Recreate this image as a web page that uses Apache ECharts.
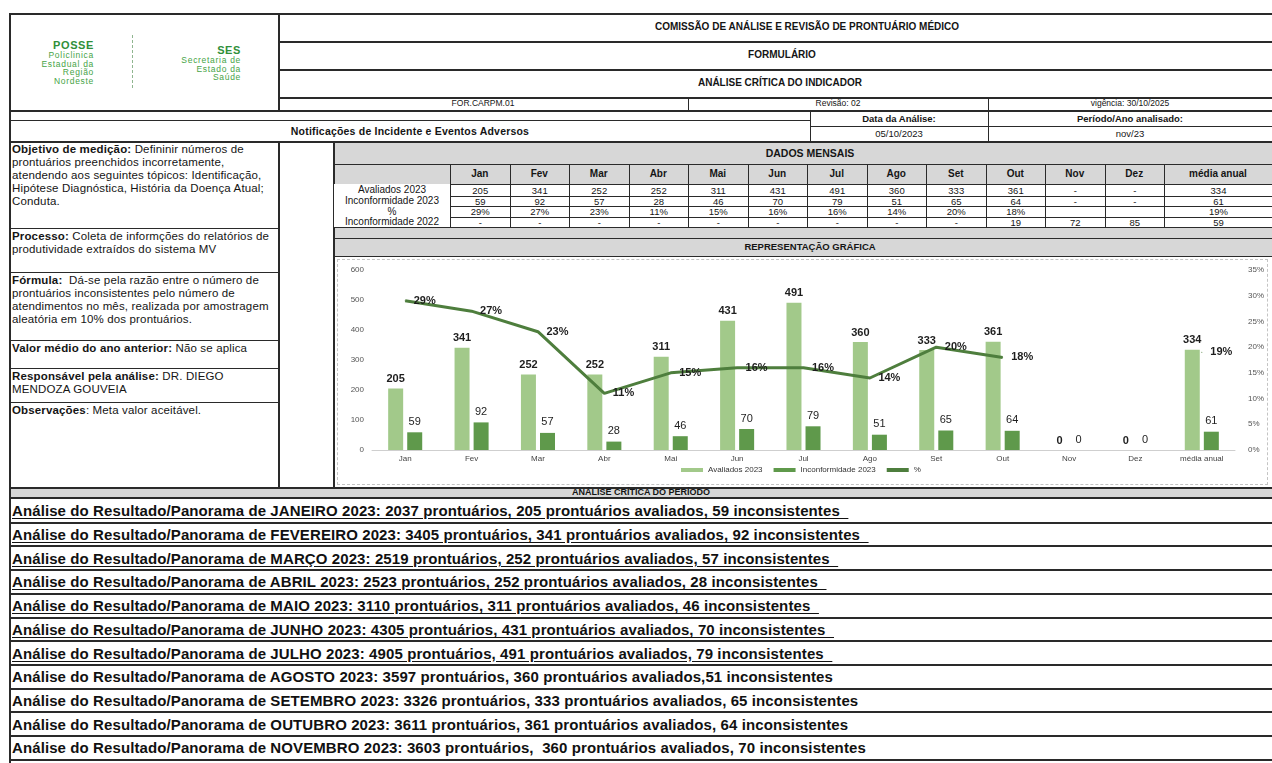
<!DOCTYPE html>
<html><head><meta charset="utf-8">
<script src="https://cdn.jsdelivr.net/npm/echarts@6/dist/echarts.min.js"></script>
<style>
html,body{margin:0;padding:0}
body{width:1272px;height:763px;overflow:hidden;background:#fff;font-family:"Liberation Sans",Arial,sans-serif;color:#151515;position:relative}
.ln{position:absolute;background:#2a2a2a}
.bg{position:absolute;background:#d7d7d7}
.t{position:absolute;display:flex;align-items:center;justify-content:center;white-space:nowrap;font-size:9px;line-height:1}
.blk{position:absolute;font-size:11.5px;letter-spacing:0.15px;line-height:13px;padding:1px 3px;box-sizing:border-box;color:#151515;white-space:nowrap}
.blk b{font-weight:bold}
.row{position:absolute;left:12px;font-size:15px;letter-spacing:0.1px;font-weight:bold;white-space:pre;display:flex;align-items:center;color:#111}
.u{text-decoration:underline;text-underline-offset:2px}
.g1{color:#2f8f3a;font-weight:bold}
.g2{color:#46a446;letter-spacing:0.7px}
</style></head>
<body>
<div id="page"></div>
<div id="chart" style="position:absolute;left:333px;top:256px;width:939px;height:231px"></div>
<script>
// ---------- data ----------
const months = ['Jan','Fev','Mar','Abr','Mai','Jun','Jul','Ago','Set','Out','Nov','Dez','média anual'];
const avaliados2023 = [205,341,252,252,311,431,491,360,333,361,0,0,334];
const inconformidade2023 = [59,92,57,28,46,70,79,51,65,64,0,0,61];
const percentual2023 = [29,27,23,11,15,16,16,14,20,18,null,null,19];
const tabelaAvaliados = ['205','341','252','252','311','431','491','360','333','361','-','-','334'];
const tabelaInconf2023 = ['59','92','57','28','46','70','79','51','65','64','-','-','61'];
const tabelaPercent = ['29%','27%','23%','11%','15%','16%','16%','14%','20%','18%','','','19%'];
const tabelaInconf2022 = ['-','-','-','-','-','-','-','-','-','19','72','85','59'];
const rowLabels = ['Avaliados 2023','Inconformidade 2023','%','Inconformidade 2022'];
const analise = [
 ['Análise do Resultado/Panorama de JANEIRO 2023: 2037 prontuários, 205 prontuários avaliados, 59 inconsistentes  ', true],
 ['Análise do Resultado/Panorama de FEVEREIRO 2023: 3405 prontuários, 341 prontuários avaliados, 92 inconsistentes  ', true],
 ['Análise do Resultado/Panorama de MARÇO 2023: 2519 prontuários, 252 prontuários avaliados, 57 inconsistentes  ', true],
 ['Análise do Resultado/Panorama de ABRIL 2023: 2523 prontuários, 252 prontuários avaliados, 28 inconsistentes  ', true],
 ['Análise do Resultado/Panorama de MAIO 2023: 3110 prontuários, 311 prontuários avaliados, 46 inconsistentes  ', true],
 ['Análise do Resultado/Panorama de JUNHO 2023: 4305 prontuários, 431 prontuários avaliados, 70 inconsistentes  ', true],
 ['Análise do Resultado/Panorama de JULHO 2023: 4905 prontuários, 491 prontuários avaliados, 79 inconsistentes  ', true],
 ['Análise do Resultado/Panorama de AGOSTO 2023: 3597 prontuários, 360 prontuários avaliados,51 inconsistentes', false],
 ['Análise do Resultado/Panorama de SETEMBRO 2023: 3326 prontuários, 333 prontuários avaliados, 65 inconsistentes', false],
 ['Análise do Resultado/Panorama de OUTUBRO 2023: 3611 prontuários, 361 prontuários avaliados, 64 inconsistentes', false],
 ['Análise do Resultado/Panorama de NOVEMBRO 2023: 3603 prontuários,  360 prontuários avaliados, 70 inconsistentes', false]
];

// ---------- page builder ----------
const page = document.getElementById('page');
function el(cls, x, y, w, h, html, style){
  const d = document.createElement('div'); d.className = cls;
  d.style.left = x+'px'; d.style.top = y+'px';
  if (w!=null) d.style.width = w+'px';
  if (h!=null) d.style.height = h+'px';
  if (html!=null) d.innerHTML = html;
  if (style) d.style.cssText += style;
  page.appendChild(d); return d;
}
const hl = (x1,x2,y,t=1)=>el('ln',x1,y,x2-x1,t);
const vl = (x,y1,y2,t=1)=>el('ln',x,y1,t,y2-y1);
const tx = (x,y,w,h,s,style)=>el('t',x,y,w,h,s,style);

const R = 1272;
// grey zones
el('bg',334,142,R-334,22);
el('bg',334,164,R-334,20);
el('bg',334,228,R-334,28);
el('bg',10,488,R-10,9);

// header
tx(656,13,302,28,'COMISSÃO DE ANÁLISE E REVISÃO DE PRONTUÁRIO MÉDICO','font-weight:bold;font-size:10px');
tx(682,41,200,28,'FORMULÁRIO','font-weight:bold;font-size:10px');
tx(680,69,200,28,'ANÁLISE CRÍTICA DO INDICADOR','font-weight:bold;font-size:10px');
tx(278,97,410,13,'FOR.CARPM.01','font-size:8.5px');
tx(688,97,300,13,'Revisão: 02','font-size:8.5px');
tx(988,97,R-988,13,'vigência: 30/10/2025','font-size:8.5px');
tx(810,111,178,15,'Data da Análise:','font-weight:bold;font-size:9.5px');
tx(988,111,R-988,15,'Período/Ano analisado:','font-weight:bold;font-size:9.5px');
tx(10,121,800,20,'Notificações de Incidente e Eventos Adversos','font-weight:bold;font-size:10.5px;letter-spacing:0.2px');
tx(810,126,178,15,'05/10/2023','font-size:9.5px');
tx(988,126,R-988,15,'nov/23','font-size:9.5px');

// logo
el('blk',30,40,64,60,'<div class="g1" style="text-align:right;font-size:11px;line-height:11px;letter-spacing:0.6px">POSSE</div><div class="g2" style="text-align:right;font-size:8.5px;line-height:8.7px">Policlinica<br>Estadual da<br>Região<br>Nordeste</div>','padding:0;width:64px');
el('ln',132,35,1,53,null,'background:none;border-left:1px dashed #8fb58f');
el('blk',166,45,75,50,'<div class="g1" style="text-align:right;font-size:11px;line-height:11px;letter-spacing:0.6px">SES</div><div class="g2" style="text-align:right;font-size:8.5px;line-height:8.7px">Secretaria de<br>Estado da<br>Saúde</div>','padding:0');

// header lines
hl(9,R,13,2); vl(9,13,763,2);
vl(278,13,111,2);
hl(278,R,41,1.5); hl(278,R,69,1.5); hl(278,R,97,1.5);
vl(688,97,111); vl(988,97,141);
hl(9,R,110,1.5);
hl(9,810,120); hl(810,R,126);
vl(810,110,141);
hl(9,R,141,1.5);

// left blocks
const blocks = [
 [141,228,'<b>Objetivo de medição:</b> Defininir números de<br>prontuários preenchidos incorretamente,<br>atendendo aos seguintes tópicos: Identificação,<br>Hipótese Diagnóstica, História da Doença Atual;<br>Conduta.'],
 [228,272,'<b>Processo:</b> Coleta de informções do relatórios de<br>produtividade extraídos do sistema MV'],
 [272,340,'<b>Fórmula:</b>&nbsp; Dá-se pela razão entre o número de<br>prontuários inconsistentes pelo número de<br>atendimentos no mês, realizada por amostragem<br>aleatória em 10% dos prontuários.'],
 [340,368,'<b>Valor médio do ano anterior:</b> Não se aplica'],
 [368,402,'<b>Responsável pela análise:</b> DR. DIEGO<br>MENDOZA GOUVEIA'],
 [402,487,'<b>Observações</b>: Meta valor aceitável.']
];
blocks.forEach(b=>{ el('blk',9,b[0]+1,269,b[1]-b[0],b[2]); if (b[1]<487) hl(9,278,b[1]); });
vl(278,141,487,1.5); vl(333,141,487,1.5);

// monthly table
tx(348,142,R-348,22,'DADOS MENSAIS','font-weight:bold;font-size:10.5px');
const colX = [450]; for (let i=1;i<=12;i++) colX.push(450+59.5*i); colX.push(R);
const rowY = [164,184,196,206,217,227];
hl(333,R,164);
rowY.slice(1).forEach(y=>hl(333,R,y));
vl(450,164,227);
for (let i=1;i<13;i++) vl(colX[i],164,227);
months.forEach((m,i)=>tx(colX[i],164,colX[i+1]-colX[i],20,m,'font-weight:bold;font-size:10px'));
const tabela = [tabelaAvaliados,tabelaInconf2023,tabelaPercent,tabelaInconf2022];
tabela.forEach((row,r)=>{
  const y = rowY[r+1], h = rowY[r+2]-rowY[r+1];
  tx(334,y,116,h,rowLabels[r],'font-size:10px;background:#fff');
  row.forEach((v,i)=>tx(colX[i]+1,y+0.5,colX[i+1]-colX[i]-1,h-0.5,v,'font-size:9.5px;background:#fff'));
});
hl(333,R,238);
tx(348,238,R-348,18,'REPRESENTAÇÃO GRÁFICA','font-weight:bold;font-size:9.5px');
hl(333,R,256);
el('ln',337,259,929,224,null,'background:none;border:1px dashed #c4c4c4');

// bottom analysis
hl(9,R,487,1.5);
tx(10,487,R-10,10,'ANÁLISE CRÍTICA DO PERÍODO','font-weight:bold;font-size:9px');
hl(9,R,497,1.5);
const rh = 23.7;
analise.forEach((a,i)=>{
  const y = 499 + rh*i;
  const d = el('row',12,y,null,rh);
  d.innerHTML = '<span class="'+(a[1]?'u':'')+'">'+a[0].replace(/ /g,' ')+'</span>';
  hl(9,R,Math.round(y+rh-1),1.5);
});

// ---------- chart ----------
const chart = echarts.init(document.getElementById('chart'));
const FONT = 'Liberation Sans, Arial, sans-serif';
chart.setOption({
  animation:false,
  textStyle:{fontFamily:FONT},
  grid:{left:39,right:37,top:14,bottom:37},
  legend:{bottom:8,left:343,icon:'rect',itemWidth:22,itemHeight:4,itemGap:11,
    textStyle:{fontSize:8,color:'#333',fontFamily:FONT},
    data:['Avaliados 2023','Inconformidade 2023','%']},
  xAxis:{type:'category',data:months,axisTick:{show:false},
    axisLine:{lineStyle:{color:'#cfcfcf'}},
    axisLabel:{fontSize:8,color:'#444',margin:5}},
  yAxis:[
    {type:'value',min:0,max:600,interval:100,splitLine:{show:false},axisLine:{show:false},
      axisLabel:{fontSize:8,color:'#555',margin:8}},
    {type:'value',min:0,max:35,interval:5,splitLine:{show:false},axisLine:{show:false},
      axisLabel:{fontSize:8,color:'#555',margin:13,formatter:'{value}%'}}
  ],
  series:[
    {name:'Avaliados 2023',type:'bar',data:avaliados2023,barWidth:15,barGap:'27%',
      itemStyle:{color:'#a2c98a'},
      label:{show:true,position:'top',distance:4,fontSize:11,fontWeight:'bold',color:'#1e1e1e'}},
    {name:'Inconformidade 2023',type:'bar',data:inconformidade2023,barWidth:15,
      itemStyle:{color:'#5f994b'},
      label:{show:true,position:'top',distance:5,fontSize:11,color:'#1e1e1e'}},
    {name:'%',type:'line',yAxisIndex:1,data:percentual2023,symbol:'circle',symbolSize:1,
      lineStyle:{width:3,color:'#4e7e3d'},itemStyle:{color:'#4e7e3d'},
      label:{show:true,position:'right',distance:8,formatter:'{c}%',fontSize:11,fontWeight:'bold',color:'#1e1e1e'}}
  ]
});
</script>
</body></html>
